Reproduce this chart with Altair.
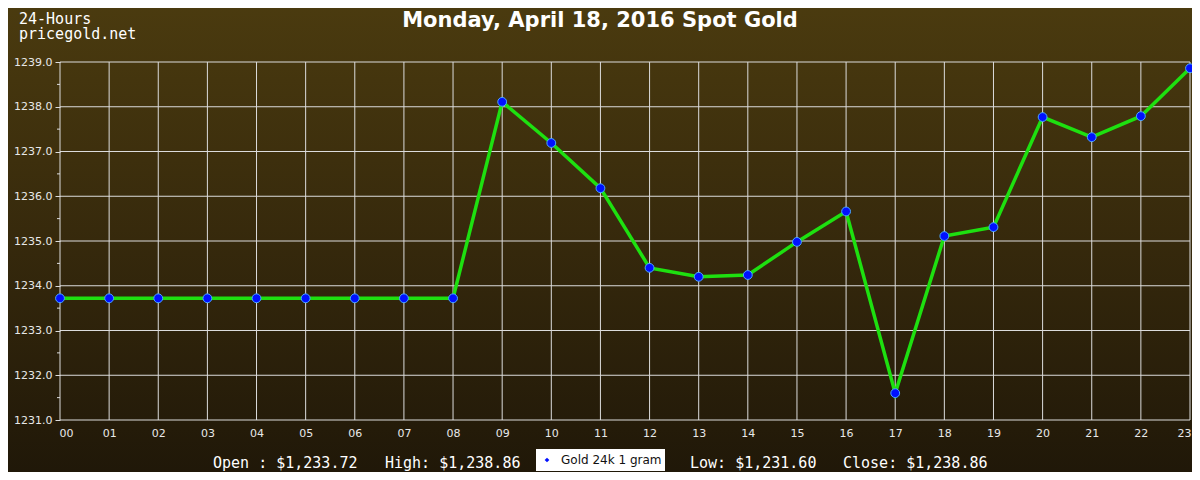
import altair as alt
import pandas as pd

hours = [0, 1, 2, 3, 4, 5, 6, 7, 8, 9, 10, 11, 12, 13, 14, 15, 16, 17, 18, 19, 20, 21, 22, 23]
prices = [1233.72, 1233.72, 1233.72, 1233.72, 1233.72, 1233.72, 1233.72, 1233.72, 1233.72,
          1238.11, 1237.19, 1236.18, 1234.40, 1234.20, 1234.24, 1234.98, 1235.66,
          1231.60, 1235.11, 1235.31, 1237.77, 1237.32, 1237.79, 1238.86]
y_major = [1231.0, 1232.0, 1233.0, 1234.0, 1235.0, 1236.0, 1237.0, 1238.0, 1239.0]
y_minor = [1231.5, 1232.5, 1233.5, 1234.5, 1235.5, 1236.5, 1237.5, 1238.5]
title_text = "Monday, April 18, 2016 Spot Gold"
corner_lines = ["24-Hours", "pricegold.net"]
stats = ["Open : $1,233.72", "High: $1,238.86", "Low: $1,231.60", "Close: $1,238.86"]
legend_label = "Gold 24k 1 gram"

W, H = 1130, 358
GRID = "#dcdcdc"
LABEL = "#e8e8e8"

df = pd.DataFrame({"hour": hours, "price": prices})
xs = alt.Scale(domain=[0, 23], nice=False, zero=False)
ys = alt.Scale(domain=[1231, 1239], nice=False, zero=False)

xaxis = alt.Axis(values=hours,
                 labelExpr="datum.value < 10 ? '0' + datum.value : '' + datum.value",
                 grid=False, domain=False, ticks=False, labelPadding=7, title=None,
                 labelColor=LABEL, labelFont="DejaVu Sans", labelFontSize=11, zindex=1,
                 labelFlush=True, labelFlushOffset=1)
yaxis = alt.Axis(values=y_major, format=".1f", grid=False, domain=False, tickSize=5,
                 tickColor=GRID, labelPadding=3, title=None, labelColor=LABEL,
                 labelFont="DejaVu Sans", labelFontSize=11, zindex=1)

xenc = alt.X("hour:Q", scale=xs, axis=xaxis)
yenc = alt.Y("price:Q", scale=ys, axis=yaxis)

one = alt.Data(values=[{"a": 1}])

bg = alt.Chart(one).mark_rect(
    fill=alt.Gradient(
        gradient="linear", x1=0, y1=0, x2=0, y2=1,
        stops=[alt.GradientStop(color="#4b3b0f", offset=0),
               alt.GradientStop(color="#36290c", offset=0.5),
               alt.GradientStop(color="#1f1708", offset=1)],
    )
).encode(x=alt.value(-60), x2=alt.value(1140), y=alt.value(-62), y2=alt.value(420))

vgrid = alt.Chart(pd.DataFrame({"hour": hours})).mark_rule(color=GRID, strokeWidth=1).encode(
    x=xenc, y=alt.value(0), y2=alt.value(H))
hgrid = alt.Chart(pd.DataFrame({"price": y_major})).mark_rule(color=GRID, strokeWidth=1).encode(
    y=yenc, x=alt.value(0), x2=alt.value(W))
minor = alt.Chart(pd.DataFrame({"price": y_minor})).mark_rule(color=GRID, strokeWidth=1).encode(
    y=yenc, x=alt.value(-3), x2=alt.value(0))

line = alt.Chart(df).mark_line(color="#1ee010", strokeWidth=3.5).encode(x=xenc, y=yenc)
pts = alt.Chart(df).mark_circle(size=78, color="#0010ff", opacity=1, stroke="#4aa8ff",
                                strokeWidth=1).encode(x=xenc, y=yenc)


def label(text, x, y, size=15, font="DejaVu Sans Mono", weight="normal", color="white", align="left"):
    return alt.Chart(alt.Data(values=[{"t": text}])).mark_text(
        font=font, fontSize=size, fontWeight=weight, color=color, align=align, baseline="middle"
    ).encode(text="t:N", x=alt.value(x), y=alt.value(y))


texts = [
    label(title_text, 540, -41, size=21, font="DejaVu Sans", weight="bold", align="center"),
    label(corner_lines[0], -41, -43),
    label(corner_lines[1], -41, -28),
    label(stats[0], 153, 401),
    label(stats[1], 325, 401),
    label(stats[2], 630, 401),
    label(stats[3], 783, 401),
]

leg_box = alt.Chart(one).mark_rect(fill="white").encode(
    x=alt.value(476), x2=alt.value(605), y=alt.value(387), y2=alt.value(409))
leg_pt = alt.Chart(one).mark_point(shape="diamond", filled=True, color="#0010ff", size=22,
                                   opacity=1).encode(x=alt.value(487), y=alt.value(398))
leg_txt = label(legend_label, 501, 398, size=12, font="DejaVu Sans", color="#111111")

chart = alt.layer(bg, vgrid, hgrid, minor, line, pts, *texts, leg_box, leg_pt, leg_txt).properties(
    width=W, height=H,
    padding={"left": 52, "top": 54, "right": 2, "bottom": 52},
    autosize="none",
    background="#2f240b",
).configure_view(strokeWidth=0)

chart.save("out.html", embed_options={"renderer": "svg", "actions": False})
